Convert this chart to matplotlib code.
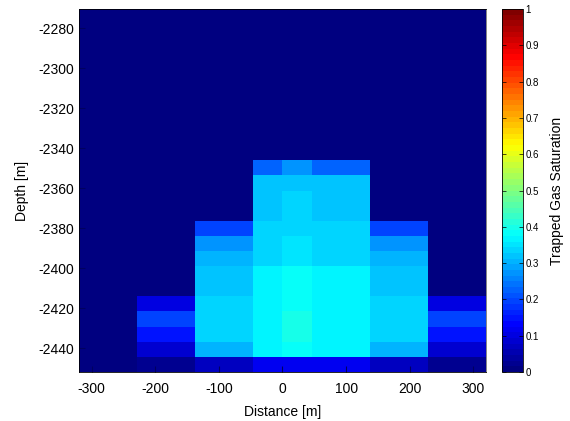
import matplotlib.pyplot as plt
import numpy as np
from matplotlib.colors import LinearSegmentedColormap

plt.rcParams['font.family'] = ['Liberation Sans', 'DejaVu Sans']
plt.rcParams['axes.unicode_minus'] = False

# Cell edges of the section (lateral distance and depth, metres)
distance_edges = [-320, -229, -137, -46, 0, 46, 137, 229, 320]
depth_bottom = -2452.0
depth_top = -2270.3
n_layers = 24

# Trapped gas saturation in the plume layers, deepest layer first,
# one value per lateral column (8 columns)
plume_saturation = [
    [0.00, 0.02, 0.07, 0.12, 0.12, 0.12, 0.07, 0.02],
    [0.00, 0.08, 0.31, 0.365, 0.375, 0.365, 0.31, 0.08],
    [0.00, 0.155, 0.336, 0.36, 0.395, 0.36, 0.336, 0.155],
    [0.00, 0.19, 0.336, 0.365, 0.395, 0.365, 0.336, 0.19],
    [0.00, 0.10, 0.336, 0.36, 0.375, 0.365, 0.336, 0.10],
    [0.00, 0.00, 0.316, 0.365, 0.375, 0.365, 0.316, 0.00],
    [0.00, 0.00, 0.316, 0.365, 0.375, 0.365, 0.316, 0.00],
    [0.00, 0.00, 0.297, 0.34, 0.35, 0.34, 0.297, 0.00],
    [0.00, 0.00, 0.272, 0.34, 0.35, 0.34, 0.272, 0.00],
    [0.00, 0.00, 0.19, 0.336, 0.336, 0.336, 0.19, 0.00],
    [0.00, 0.00, 0.00, 0.32, 0.336, 0.326, 0.00, 0.00],
    [0.00, 0.00, 0.00, 0.32, 0.336, 0.326, 0.00, 0.00],
    [0.00, 0.00, 0.00, 0.32, 0.325, 0.32, 0.00, 0.00],
    [0.00, 0.00, 0.00, 0.223, 0.27, 0.223, 0.00, 0.00],
]

x_ticks = [-300, -200, -100, 0, 100, 200, 300]
y_ticks = [-2440, -2420, -2400, -2380, -2360, -2340, -2320, -2300, -2280]
cbar_ticks = [0, 0.1, 0.2, 0.3, 0.4, 0.5, 0.6, 0.7, 0.8, 0.9, 1]

# classic 64-step jet (MATLAB style breakpoints)
jet_segments = {
    'red':   [(0, 0, 0), (0.375, 0, 0), (0.625, 1, 1), (0.875, 1, 1), (1, 0.5, 0.5)],
    'green': [(0, 0, 0), (0.125, 0, 0), (0.375, 1, 1), (0.625, 1, 1), (0.875, 0, 0), (1, 0, 0)],
    'blue':  [(0, 0.5, 0.5), (0.125, 1, 1), (0.375, 1, 1), (0.625, 0, 0), (1, 0, 0)],
}
cmap = LinearSegmentedColormap('jet64', jet_segments, N=64)

# layers above the plume carry no trapped gas
sat = np.zeros((n_layers, len(distance_edges) - 1))
sat[:len(plume_saturation)] = plume_saturation
depth_edges = np.linspace(depth_bottom, depth_top, n_layers + 1)

fig = plt.figure(figsize=(5.70, 4.21), dpi=100)
ax = fig.add_axes([0.1386, 0.1164, 0.714, 0.8622])
cax = fig.add_axes([0.8807, 0.1164, 0.0368, 0.8622])

mesh = ax.pcolormesh(distance_edges, depth_edges, sat, cmap=cmap, vmin=0, vmax=1,
                     shading='flat')

ax.set_xlim(-320, 320)
ax.set_ylim(depth_bottom, depth_top)
ax.set_xticks(x_ticks)
ax.set_yticks(y_ticks)
ax.tick_params(direction='in', length=4, labelsize=10, color='#000060')
ax.tick_params(axis='x', pad=7)
ax.set_xlabel('Distance [m]', fontsize=10, labelpad=7)
ax.set_ylabel('Depth [m]', fontsize=10, labelpad=7)
for sp in ax.spines.values():
    sp.set_linewidth(0.6)
ax.spines['right'].set_color('#707070')

cbar = fig.colorbar(mesh, cax=cax, ticks=cbar_ticks)
cbar.ax.set_yticklabels([f'{t:g}' for t in cbar_ticks])
cbar.ax.tick_params(direction='in', length=3, width=0.5, labelsize=7,
                    left=True, right=True, pad=2)
cbar.outline.set_linewidth(0.6)
cbar.set_label('Trapped Gas Saturation', fontsize=10, labelpad=8)

plt.savefig('out.png', dpi=100)
plt.close()
